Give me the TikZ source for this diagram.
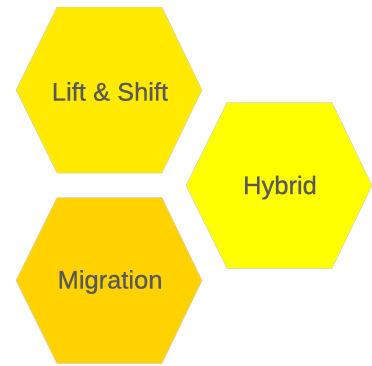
\documentclass[tikz,border=0pt]{standalone}
\usepackage{fontspec}
\setmainfont{Liberation Sans}
\newfontfamily\hexfont[FakeBold=0.6]{Liberation Sans}
\usepackage{tikz}

\definecolor{liftyellow}{RGB}{255,234,0}
\definecolor{hybridyellow}{RGB}{255,255,0}
\definecolor{migrationyellow}{RGB}{255,210,0}
\definecolor{hextextgray}{RGB}{89,89,89}

\begin{document}
\begin{tikzpicture}[x=1pt, y=-1pt]
    \tikzstyle{hexa} = [draw=black!18, line width=0.5pt, line join=miter];
    \tikzstyle{hextext} = [text=hextextgray, inner sep=0pt, style={font=\hexfont\fontsize{25.5}{30}\selectfont}];
    \useasboundingbox (0,0) rectangle (372,365);
    % three cells
    \path[hexa, fill=liftyellow] (16,90) -- ++(41,-83) -- ++(105,0) -- ++(40,83) -- ++(-40,83) -- ++(-105,0) -- cycle;
    \path[hexa, fill=hybridyellow] (186,185.5) -- ++(41,-83) -- ++(105,0) -- ++(40,83) -- ++(-40,83) -- ++(-105,0) -- cycle;
    \path[hexa, fill=migrationyellow] (16,280.5) -- ++(41,-83) -- ++(105,0) -- ++(40,83) -- ++(-40,83) -- ++(-105,0) -- cycle;
    % labels
    \node[hextext] (lift) at (110,91.5) {Lift \& Shift};
    \node[hextext] (hybrid) at (280,187.5) {Hybrid};
    \node[hextext] (migration) at (110,282) {Migration};
\end{tikzpicture}
\end{document}
